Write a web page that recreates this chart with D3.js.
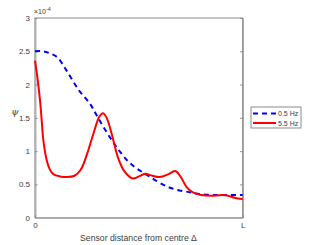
<!DOCTYPE html>
<html><head><meta charset="utf-8">
<script src="https://cdn.jsdelivr.net/npm/d3@7"></script>
<style>body{margin:0;background:#fff}svg{display:block;font-family:"Liberation Sans",Arial,sans-serif}</style>
</head><body><svg id="c" width="327" height="245"></svg>
<script>
const seriesNames = ["0.5 Hz", "5.5 Hz"];
const blueX = [0, 0.04, 0.07, 0.107, 0.15, 0.21, 0.265, 0.3, 0.35, 0.4, 0.457, 0.54, 0.65, 0.75, 0.81, 0.9, 1];
const blueY = [2.5, 2.5, 2.47, 2.41, 2.22, 1.92, 1.71, 1.52, 1.26, 1.03, 0.82, 0.64, 0.45, 0.38, 0.35, 0.34, 0.34];
const redX = [0, 0.011, 0.024, 0.032, 0.04, 0.056, 0.072, 0.09, 0.12, 0.155, 0.19, 0.22, 0.25, 0.28, 0.31, 0.327, 0.345, 0.37, 0.4, 0.43, 0.47, 0.5, 0.53, 0.565, 0.6, 0.64, 0.675, 0.7, 0.73, 0.76, 0.8, 0.85, 0.9, 0.93, 0.96, 1];
const redY = [2.36, 2.12, 1.77, 1.47, 1.17, 0.87, 0.72, 0.65, 0.62, 0.61, 0.63, 0.72, 0.95, 1.25, 1.52, 1.57, 1.5, 1.25, 0.9, 0.7, 0.59, 0.62, 0.66, 0.63, 0.61, 0.65, 0.70, 0.62, 0.46, 0.38, 0.34, 0.33, 0.34, 0.33, 0.30, 0.28];
const yTicks = [0, 0.5, 1, 1.5, 2, 2.5, 3];
const yTickLabels = ["0", "0.5", "1", "1.5", "2", "2.5", "3"];
const xTicks = [0, 1];
const xTickLabels = ["0", "L"];

const svg = d3.select("#c");
const L = 35, R = 242.7, T = 18, B = 217.7;
const x = d3.scaleLinear().domain([0, 1]).range([L, R]);
const y = d3.scaleLinear().domain([0, 3]).range([B, T]);
const axC = "#8a8a8a", txC = "#404040";

svg.append("rect").attr("x", L).attr("y", T).attr("width", R - L).attr("height", B - T)
  .attr("fill", "none").attr("stroke", axC).attr("stroke-width", 1);

const ax = svg.append("g").attr("transform", `translate(${L},0)`)
  .call(d3.axisLeft(y).tickValues(yTicks).tickFormat((d, i) => yTickLabels[i]).tickSizeInner(-2.5).tickSizeOuter(0).tickPadding(5));
ax.select(".domain").attr("stroke", "#b0b0b0").attr("stroke-width", 2);
ax.selectAll("line").attr("stroke", axC);
ax.selectAll("text").attr("fill", txC).attr("font-size", 8);

const axr = svg.append("g").attr("transform", `translate(${R},0)`)
  .call(d3.axisRight(y).tickValues(yTicks).tickFormat("").tickSizeInner(-2.5).tickSizeOuter(0));
axr.select(".domain").attr("stroke", axC);
axr.selectAll("line").attr("stroke", axC);

const axb = svg.append("g").attr("transform", `translate(0,${B})`)
  .call(d3.axisBottom(x).tickValues(xTicks).tickFormat((d, i) => xTickLabels[i]).tickSizeInner(-2.5).tickSizeOuter(0).tickPadding(5));
axb.select(".domain").attr("stroke", "#b0b0b0").attr("stroke-width", 1.5);
axb.selectAll("line").attr("stroke", axC);
axb.selectAll("text").attr("fill", txC).attr("font-size", 8);

const ex = svg.append("text").attr("x", 34).attr("y", 14).attr("fill", txC).attr("font-size", 7);
ex.append("tspan").text("×10");
ex.append("tspan").attr("dy", -3).attr("font-size", 5.5).text("-4");

svg.append("text").attr("x", 15).attr("y", 115).attr("text-anchor", "middle").attr("fill", txC)
  .attr("font-size", 9.5).attr("font-style", "italic").attr("font-family", "DejaVu Serif, serif").text("ψ");
svg.append("text").attr("x", 138.5).attr("y", 240.5).attr("text-anchor", "middle").attr("fill", txC)
  .attr("font-size", 8.7).text("Sensor distance from centre Δ");

const line = d3.line().x(d => x(d[0])).y(d => y(d[1])).curve(d3.curveCatmullRom.alpha(0.5));
svg.append("path").datum(blueX.map((v, i) => [v, blueY[i]])).attr("d", line)
  .attr("fill", "none").attr("stroke", "#0000ff").attr("stroke-width", 2).attr("stroke-dasharray", "5,4");
svg.append("path").datum(redX.map((v, i) => [v, redY[i]])).attr("d", line)
  .attr("fill", "none").attr("stroke", "#ff0000").attr("stroke-width", 2);

const lg = svg.append("g");
lg.append("rect").attr("x", 251).attr("y", 107).attr("width", 50).attr("height", 21)
  .attr("fill", "#fff").attr("stroke", axC).attr("stroke-width", 1);
const cols = ["#0000ff", "#ff0000"], dash = ["5,4", null], ly = [113.5, 123];
seriesNames.forEach((n, i) => {
  lg.append("line").attr("x1", 253).attr("x2", 276).attr("y1", ly[i]).attr("y2", ly[i])
    .attr("stroke", cols[i]).attr("stroke-width", 2).attr("stroke-dasharray", dash[i]);
  lg.append("text").attr("x", 278).attr("y", ly[i] + 2.5).attr("font-size", 7).attr("fill", txC).text(n);
});
</script></body></html>
